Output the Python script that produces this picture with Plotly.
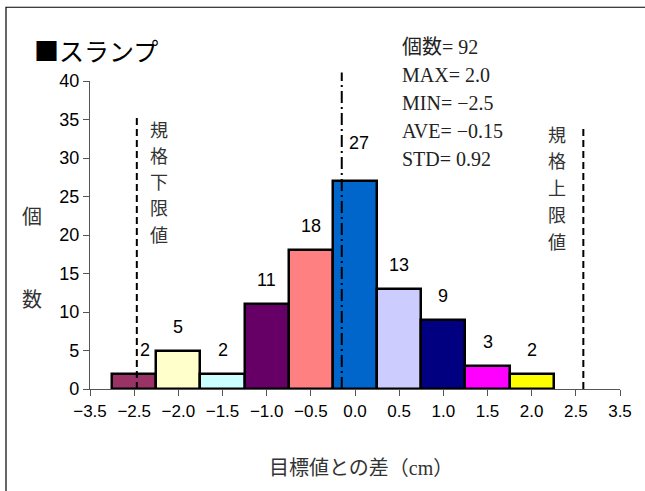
import plotly.graph_objects as go

# ---- data ----
tick_labels = ["−3.5", "−2.5", "−2.0", "−1.5", "−1.0", "−0.5", "0.0",
               "0.5", "1.0", "1.5", "2.0", "2.5", "3.5"]
bin_values = [-2.5, -2.0, -1.5, -1.0, -0.5, 0.0, 0.5, 1.0, 1.5, 2.0]
counts = [2, 5, 2, 11, 18, 27, 13, 9, 3, 2]
bar_colors = ["#993366", "#FFFFCC", "#CCFFFF", "#660066", "#FF8080",
              "#0066CC", "#CCCCFF", "#000080", "#FF00FF", "#FFFF00"]
stats_lines = ["個数= 92", "MAX= 2.0", "MIN= −2.5", "AVE= −0.15", "STD= 0.92"]
ave = -0.15
spec_lower = -2.47
spec_upper = 2.585

# category index of a value (-2.5 sits at index 1, steps of 0.5)
def to_idx(v):
    return 1 + (v + 2.5) / 0.5

bar_x = [to_idx(v) for v in bin_values]

SANS = "Liberation Sans, Arial, sans-serif"
SERIF = "Liberation Serif, Noto Sans CJK JP, serif"
CJK = "Noto Sans CJK JP, sans-serif"

fig = go.Figure()
fig.add_trace(go.Bar(
    x=bar_x, y=counts, width=1.0,
    marker=dict(color=bar_colors, line=dict(color="black", width=2.5)),
    hoverinfo="skip", showlegend=False,
))

# bar value labels (label shifts are styling)
xshift = {0: 11, 5: 4}
yshift = {5: 38}
for i, (xv, c) in enumerate(zip(bar_x, counts)):
    fig.add_annotation(x=xv, y=c, text=str(c), showarrow=False,
                       xref="x", yref="y", yanchor="middle",
                       xshift=xshift.get(i, 0), yshift=yshift.get(i, 24),
                       font=dict(family=SANS, size=18, color="black"))

# spec limit and mean lines
fig.add_shape(type="line", xref="x", yref="paper",
              x0=to_idx(spec_lower), x1=to_idx(spec_lower), y0=0, y1=0.889,
              line=dict(color="black", width=2, dash="7px,4px"))
fig.add_shape(type="line", xref="x", yref="paper",
              x0=to_idx(spec_upper), x1=to_idx(spec_upper), y0=0, y1=0.853,
              line=dict(color="black", width=2, dash="7px,4px"))
fig.add_shape(type="line", xref="x", yref="paper",
              x0=to_idx(ave), x1=to_idx(ave), y0=0, y1=1.028,
              line=dict(color="black", width=2, dash="12px,4px,2px,4px"))

# outer chart frame
fig.add_shape(type="rect", xref="paper", yref="paper",
              x0=-0.1585, x1=1.3, y0=-0.6, y1=1.2395,
              line=dict(color="black", width=1.2))

# title
fig.add_annotation(xref="paper", yref="paper", x=-0.11, y=1.1, xanchor="left",
                   yanchor="middle", text="■スランプ", showarrow=False,
                   font=dict(family=CJK, size=25, color="black"))

# stats block
for k, line in enumerate(stats_lines):
    fig.add_annotation(xref="paper", yref="paper", x=0.584,
                       y=(389 - 47 - 28 * k) / 308.3, xanchor="left",
                       yanchor="middle", text=line, showarrow=False,
                       font=dict(family=SERIF, size=20, color="#222"))

# vertical spec labels, one character per line
lower_txt = "規格下限値"
upper_txt = "規格上限値"
for k, ch in enumerate(lower_txt):
    fig.add_annotation(xref="paper", yref="paper", x=(159 - 90) / 530,
                       y=(389 - 128 - 26.25 * k) / 308.3, text=ch,
                       showarrow=False, xanchor="center", yanchor="middle",
                       height=25, font=dict(family=CJK, size=18, color="#333"))
for k, ch in enumerate(upper_txt):
    fig.add_annotation(xref="paper", yref="paper", x=(557 - 90) / 530,
                       y=(389 - 133 - 26.75 * k) / 308.3, text=ch,
                       showarrow=False, xanchor="center", yanchor="middle",
                       height=25, font=dict(family=CJK, size=18, color="#333"))

# y axis title (two stacked characters)
for ch, py in [("個", 215), ("数", 298)]:
    fig.add_annotation(xref="paper", yref="paper", x=(32 - 90) / 530,
                       y=(389 - py) / 308.3, text=ch, showarrow=False,
                       xanchor="center", yanchor="middle",
                       font=dict(family=CJK, size=20, color="#333"))

# x axis title
fig.add_annotation(xref="paper", yref="paper", x=(361 - 90) / 530,
                   y=(389 - 468) / 308.3, text="目標値との差（cm）",
                   showarrow=False, xanchor="center", yanchor="middle",
                   font=dict(family=SERIF, size=20, color="#333"))

fig.update_layout(
    width=645, height=491,
    margin=dict(l=90, r=25, t=81, b=102, autoexpand=False),
    paper_bgcolor="white", plot_bgcolor="white",
    bargap=0,
    xaxis=dict(range=[0, 12], tickmode="array",
               tickvals=list(range(len(tick_labels))), ticktext=tick_labels,
               showline=True, linecolor="#555", linewidth=1.2,
               ticks="outside", ticklen=6, tickcolor="#555", tickwidth=1.2,
               showgrid=False, zeroline=False, fixedrange=True,
               tickfont=dict(family=SANS, size=17, color="black")),
    yaxis=dict(range=[0, 40], tickmode="linear", tick0=0, dtick=5,
               showline=True, linecolor="#555", linewidth=1.2,
               ticks="outside", ticklen=6, tickcolor="#555", tickwidth=1.2,
               showgrid=False, zeroline=False, fixedrange=True,
               tickfont=dict(family=SANS, size=18, color="black")),
)

fig.write_html("out.html", config={"displayModeBar": False},
               post_script="document.body.style.margin='0';"
                           "document.body.style.padding='0';")
